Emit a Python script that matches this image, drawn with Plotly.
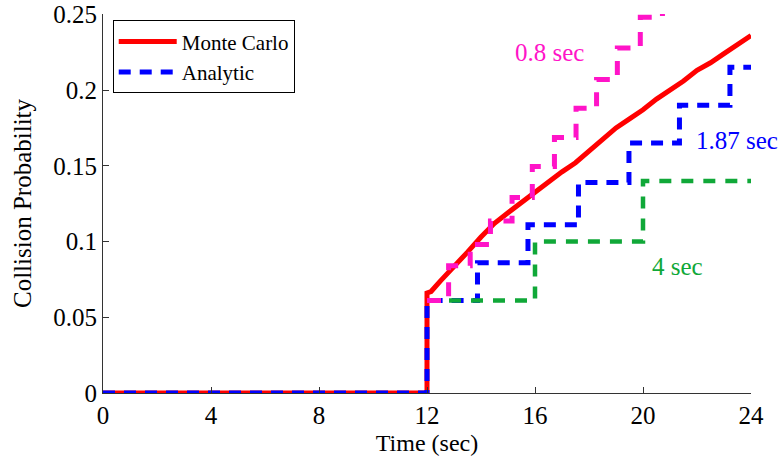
import plotly.graph_objects as go

# Monte Carlo estimate of collision probability
mc_time = [0, 12, 12, 12.15, 12.5, 13, 13.5, 14, 14.5, 15, 15.5, 16, 16.5, 17, 17.5,
           18, 18.5, 19, 19.5, 20, 20.5, 21, 21.5, 22, 22.5, 23, 23.5, 24]
mc_prob = [0, 0, 0.066, 0.067, 0.074, 0.083, 0.093, 0.103, 0.112, 0.119, 0.126, 0.133,
           0.139, 0.146, 0.152, 0.160, 0.167, 0.175, 0.181, 0.187, 0.194, 0.200, 0.206,
           0.213, 0.218, 0.224, 0.230, 0.236]

# Analytic results for three update intervals (step functions)
an187_time = [0, 12, 13.87, 15.74, 17.61, 19.48, 21.35, 23.22, 24]
an187_prob = [0, 0.061, 0.086, 0.111, 0.139, 0.165, 0.190, 0.215, 0.215]

an4_time = [12, 16, 20, 24]
an4_prob = [0.061, 0.100, 0.140, 0.140]

an08_time = [12, 12.8, 13.6, 14.35, 15.15, 15.9, 16.72, 17.52, 18.28, 19.05, 19.9, 20.72]
an08_prob = [0.061, 0.084, 0.098, 0.1135, 0.129, 0.1496, 0.1686, 0.188, 0.207, 0.2277,
             0.248, 0.27]

x_ticks = [0, 4, 8, 12, 16, 20, 24]
y_ticks = [0, 0.05, 0.1, 0.15, 0.2, 0.25]
y_ticktext = ["0", "0.05", "0.1", "0.15", "0.2", "0.25"]

RED = "#ff0000"
BLUE = "#0000ff"
GREEN = "#10a838"
MAGENTA = "#ff14c8"
FONT = "Liberation Serif, Times New Roman, serif"
FS = 25
FS_TITLE = 24

fig = go.Figure()
fig.add_trace(go.Scatter(x=mc_time, y=mc_prob, mode="lines", name="Monte Carlo",
                         line=dict(color=RED, width=5)))
fig.add_trace(go.Scatter(x=an187_time, y=an187_prob, mode="lines", name="Analytic",
                         line=dict(color=BLUE, width=5, dash="12px,9px", shape="hv")))
fig.add_trace(go.Scatter(x=an4_time, y=an4_prob, mode="lines", showlegend=False,
                         line=dict(color=GREEN, width=4.5, dash="12px,10px", shape="hv")))
fig.add_trace(go.Scatter(x=an08_time, y=an08_prob, mode="lines", showlegend=False,
                         line=dict(color=MAGENTA, width=5, dash="14px,12px", shape="hv")))

fig.add_annotation(x=15.2, y=0.225, text="0.8 sec", showarrow=False, xanchor="left",
                   yanchor="middle", font=dict(color=MAGENTA, size=FS, family=FONT))
fig.add_annotation(x=21.9, y=0.1667, text="1.87 sec", showarrow=False, xanchor="left",
                   yanchor="middle", font=dict(color=BLUE, size=FS, family=FONT))
fig.add_annotation(x=20.25, y=0.0833, text="4 sec", showarrow=False, xanchor="left",
                   yanchor="middle", font=dict(color=GREEN, size=FS, family=FONT))

axis_common = dict(showline=True, linecolor="#333333", linewidth=1, ticks="inside",
                   ticklen=6, tickcolor="#333333", showgrid=False, zeroline=False,
                   mirror=False, automargin=False, ticklabeloverflow="allow",
                   tickfont=dict(size=FS, family=FONT, color="black"))

fig.update_xaxes(range=[0, 24], tickvals=x_ticks,
                 title=dict(text="Time (sec)",
                            font=dict(size=FS_TITLE, family=FONT, color="black"),
                            standoff=6),
                 **axis_common)
fig.update_yaxes(range=[0, 0.2502], tickvals=y_ticks, ticktext=y_ticktext,
                 title=dict(text="Collision Probability",
                            font=dict(size=FS_TITLE + 1, family=FONT, color="black"),
                            standoff=14),
                 **axis_common)

fig.update_layout(
    width=782, height=456,
    margin=dict(l=103, r=31, t=14, b=63),
    paper_bgcolor="white", plot_bgcolor="white",
    font=dict(family=FONT, size=FS, color="black"),
    legend=dict(x=0.015, y=0.983, xanchor="left", yanchor="top",
                bgcolor="white", bordercolor="black", borderwidth=1,
                font=dict(size=21, family=FONT, color="black"),
                tracegroupgap=0, itemwidth=58),
    showlegend=True,
)

fig.write_html("out.html")
